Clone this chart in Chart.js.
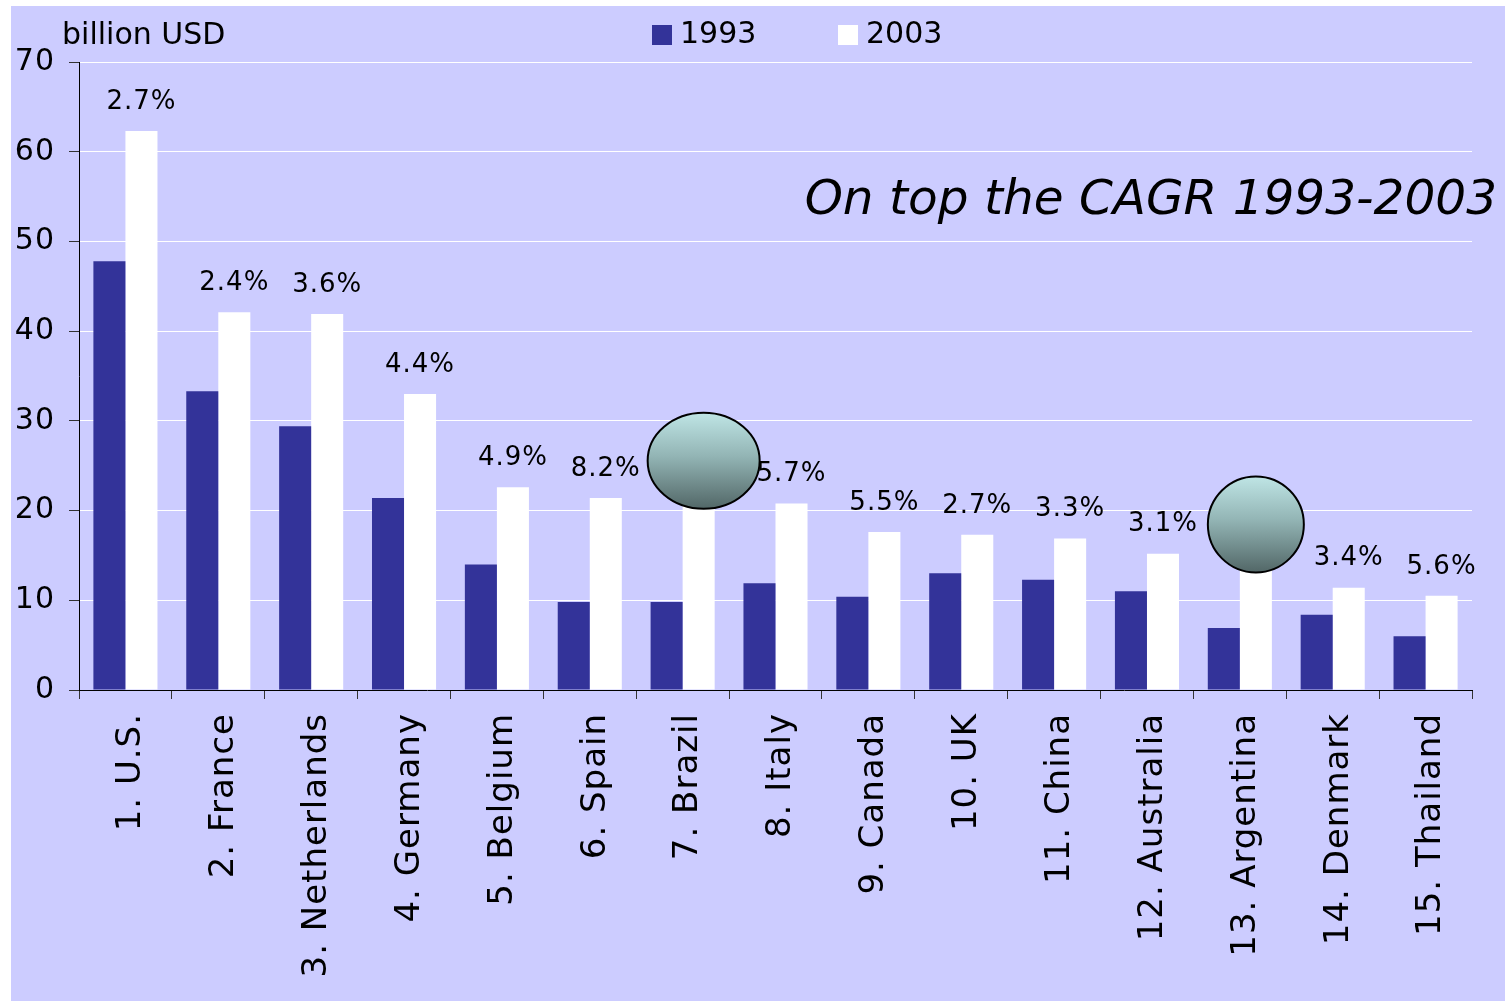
<!DOCTYPE html>
<html>
<head>
<meta charset="utf-8">
<title>Top 15 countries, 1993 vs 2003</title>
<script src="https://cdn.jsdelivr.net/npm/chart.js@4.4.1/dist/chart.umd.min.js"></script>
<style>
  html, body { margin: 0; padding: 0; background: #fff; width: 1505px; height: 1001px; overflow: hidden; }
  #bg { position: absolute; left: 11px; top: 6px; right: 0; bottom: 0; background: #ccccff; }
  #wrap { position: absolute; left: 0; top: 0; width: 1505px; height: 1001px; }
</style>
</head>
<body>
<div id="bg"></div>
<div id="wrap"><canvas id="chart" width="1505" height="1001"></canvas></div>
<script>
// data
const countries = [
  '1. U.S.', '2. France', '3. Netherlands', '4. Germany', '5. Belgium',
  '6. Spain', '7. Brazil', '8. Italy', '9. Canada', '10. UK',
  '11. China', '12. Australia', '13. Argentina', '14. Denmark', '15. Thailand'
];
const values1993 = [47.8, 33.3, 29.4, 21.4, 14.0, 9.8, 9.8, 11.9, 10.4, 13.0, 12.3, 11.0, 6.9, 8.4, 6.0];
const values2003 = [62.3, 42.1, 41.9, 33.0, 22.6, 21.4, 21.1, 20.8, 17.6, 17.3, 16.9, 15.2, 14.0, 11.4, 10.5];
const cagrLabels = ['2.7%', '2.4%', '3.6%', '4.4%', '4.9%', '8.2%', null, '5.7%', '5.5%', '2.7%', '3.3%', '3.1%', null, '3.4%', '5.6%'];
const circledCountries = [6, 12];
const yMin = 0, yMax = 70, yStep = 10;

const FONT = '"DejaVu Sans", Verdana, sans-serif';
const colors = { dark: '#333399', light: '#ffffff', grid: '#ffffff', axis: '#000000' };

// bubble shapes sitting on top of some bars (style only)
const bubbleShapes = {
  6: { dx: 5, rx: 56, ry: 48 },
  12: { dx: 0, rx: 48, ry: 48 }
};

const extrasPlugin = {
  id: 'extras',
  beforeDraw(chart) {
    // the original font is a bit more loosely spaced
    chart.ctx.letterSpacing = '1px';
  },
  afterDatasetsDraw(chart) {
    const ctx = chart.ctx;
    const meta = chart.getDatasetMeta(1);

    // CAGR above the 2003 bars
    ctx.save();
    ctx.font = '26px ' + FONT;
    ctx.fillStyle = '#000';
    ctx.textAlign = 'center';
    ctx.textBaseline = 'middle';
    meta.data.forEach((bar, i) => {
      if (cagrLabels[i]) ctx.fillText(cagrLabels[i], bar.x, bar.y - 29);
    });
    ctx.restore();

    // shaded bubbles
    circledCountries.forEach(i => {
      const bar = meta.data[i];
      const s = bubbleShapes[i];
      const cx = bar.x + s.dx;
      const cy = bar.y - 40;
      const g = ctx.createLinearGradient(0, cy - s.ry, 0, cy + s.ry);
      g.addColorStop(0, '#bfe5e5');
      g.addColorStop(0.45, '#93b5b5');
      g.addColorStop(1, '#526767');
      ctx.save();
      ctx.beginPath();
      ctx.ellipse(cx, cy, s.rx, s.ry, 0, 0, Math.PI * 2);
      ctx.fillStyle = g;
      ctx.fill();
      ctx.lineWidth = 2;
      ctx.strokeStyle = '#000';
      ctx.stroke();
      ctx.restore();
    });
  },
  afterDraw(chart) {
    const ctx = chart.ctx;
    ctx.save();
    ctx.letterSpacing = '0px';
    // unit label
    ctx.font = '30px ' + FONT;
    ctx.fillStyle = '#000';
    ctx.textAlign = 'left';
    ctx.textBaseline = 'middle';
    ctx.fillText('billion USD', 62, 36);

    // legend
    const items = [
      { ds: chart.data.datasets[0], x: 652 },
      { ds: chart.data.datasets[1], x: 838 }
    ];
    items.forEach(it => {
      ctx.fillStyle = it.ds.backgroundColor;
      ctx.fillRect(it.x, 25, 20, 20);
      ctx.fillStyle = '#000';
      ctx.fillText(it.ds.label, it.x + 28, 35);
    });

    // note
    ctx.font = 'italic 48.5px ' + FONT;
    ctx.textAlign = 'right';
    ctx.fillText('On top the CAGR 1993-2003', 1497, 201);
    ctx.restore();
  }
};

new Chart(document.getElementById('chart'), {
  type: 'bar',
  data: {
    labels: countries,
    datasets: [
      { label: '1993', data: values1993, backgroundColor: colors.dark, borderWidth: 0 },
      { label: '2003', data: values2003, backgroundColor: colors.light, borderWidth: 0 }
    ]
  },
  options: {
    responsive: false,
    animation: false,
    devicePixelRatio: 1,
    layout: { padding: { top: 62, right: 33, left: 0, bottom: 0 } },
    datasets: { bar: { categoryPercentage: 0.69, barPercentage: 1.0 } },
    plugins: {
      legend: { display: false },
      tooltip: { enabled: false }
    },
    scales: {
      x: {
        afterFit: s => { s.height = 311; },
        grid: { offset: true, drawOnChartArea: false, tickLength: 9, tickColor: '#333' },
        border: { color: colors.axis, width: 1, z: 1 },
        ticks: {
          autoSkip: false,
          minRotation: 90,
          maxRotation: 90,
          padding: 14,
          labelOffset: 6,
          color: '#000',
          font: { family: FONT, size: 34 }
        }
      },
      y: {
        min: yMin,
        max: yMax,
        afterFit: s => { s.width = 79; },
        grid: { color: colors.grid, lineWidth: 1, tickLength: 10, tickColor: '#333' },
        border: { color: colors.axis, width: 1, z: 1 },
        ticks: {
          stepSize: yStep,
          padding: 14,
          color: '#000',
          font: { family: FONT, size: 30 }
        }
      }
    }
  },
  plugins: [extrasPlugin]
});
</script>
</body>
</html>
